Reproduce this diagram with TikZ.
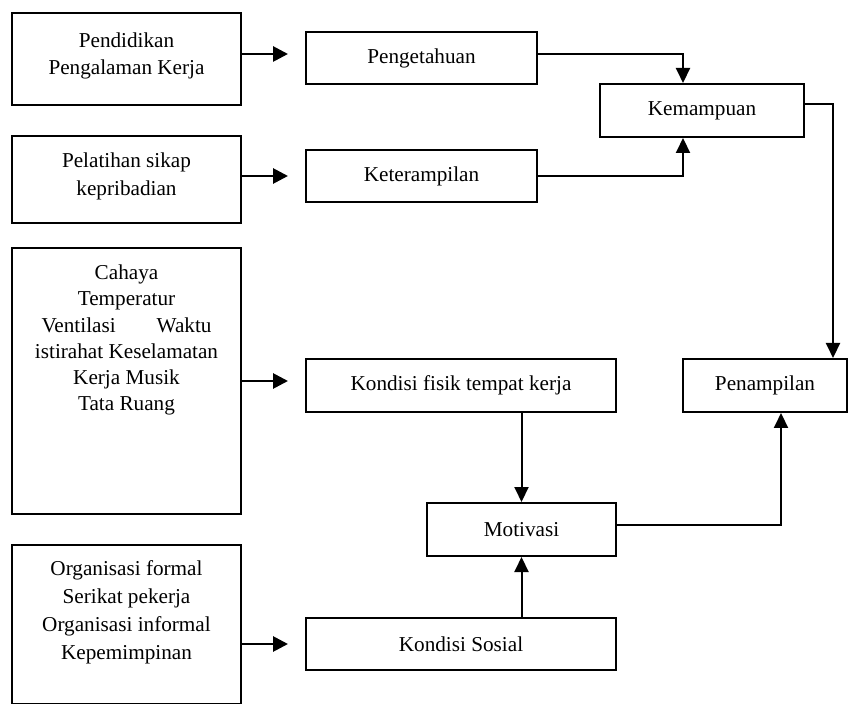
\documentclass[tikz,border=0pt]{standalone}
\usepackage{fontspec}
\setmainfont{Liberation Serif}
\usetikzlibrary{arrows.meta, positioning}

\begin{document}
\begin{tikzpicture}[
    x=0.5pt, y=-0.5pt,
    font=\fontsize{10.6}{13.4}\selectfont,
    srcbox/.style={draw, line width=1pt, inner sep=0pt, anchor=north west},
    factbox/.style={draw, line width=1pt, inner sep=0pt, minimum height=26.5pt, align=center},
    feed/.style={-{Triangle[length=7.5pt, width=7.5pt]}, line width=1.4pt, shorten >=8.5pt},
    link/.style={-{Triangle[length=7.5pt, width=7pt]}, line width=1pt}
]
\useasboundingbox (0,0) rectangle (849,704);

% sources on the left
\node[srcbox] (pend) at (11,12) {\parbox[c][46pt][t]{114.5pt}{\centering\vspace*{10pt}Pendidikan\\Pengalaman Kerja}};
\node[srcbox] (pelat) at (11,135) {\parbox[c][43.5pt][t]{114.5pt}{\centering\baselineskip=14pt\vspace*{8.5pt}Pelatihan sikap\\kepribadian}};
\node[srcbox] (fisikA) at (11,247) {\parbox[c][133pt][t]{114.5pt}{\centering\baselineskip=13.1pt\vspace*{8.5pt}Cahaya\\Temperatur\\\makebox[85pt]{Ventilasi\hfill Waktu}\\istirahat Keselamatan\\Kerja Musik\\Tata Ruang}};
\node[srcbox] (sosA) at (11,544) {\parbox[c][79.5pt][t]{114.5pt}{\centering\baselineskip=14pt\vspace*{8pt}Organisasi formal\\Serikat pekerja\\Organisasi informal\\Kepemimpinan}};

% factors
\node[factbox, minimum width=115.5pt, minimum height=26pt] (peng) at (421.5,58) {Pengetahuan};
\node[factbox, minimum width=115.5pt, minimum height=26pt] (ketr) at (421.5,176) {Keterampilan};
\node[factbox, minimum width=102pt] (kemamp) at (702,110.5) {Kemampuan};
\node[factbox, minimum width=155pt] (kondfis) at (461,385.5) {Kondisi fisik tempat kerja};
\node[factbox, minimum width=82pt] (penamp) at (765,385.5) {Penampilan};
\node[factbox, minimum width=94.5pt] (motiv) at (521.5,529.5) {Motivasi};
\node[factbox, minimum width=155pt, minimum height=26pt] (kondsos) at (461,644) {Kondisi Sosial};

% arrows from the sources
\draw[feed] (pend.east) ++(0,-5) coordinate (pa) -- (pa -| peng.west);
\draw[feed] (pelat.east |- ketr.west) -- (ketr.west);
\draw[feed] (fisikA.east) -- (fisikA.east -| kondfis.west);
\draw[feed] (sosA.east |- kondsos.west) -- (kondsos.west);

% links between factors
\draw[link] (peng.east) ++(0,-4) -| ([xshift=-9.5pt]kemamp.north);
\draw[link] (ketr.east) -| ([xshift=-9.5pt]kemamp.south);
\draw[link] (kemamp.east) ++(0,-6.5) -| ([xshift=34pt]penamp.north);
\draw[link] (kondfis.south -| motiv.north) -- (motiv.north);
\draw[link] (kondsos.north -| motiv.south) -- (motiv.south);
\draw[link] (motiv.east) ++(0,-4.5) -| ([xshift=8pt]penamp.south);

\end{tikzpicture}
\end{document}
